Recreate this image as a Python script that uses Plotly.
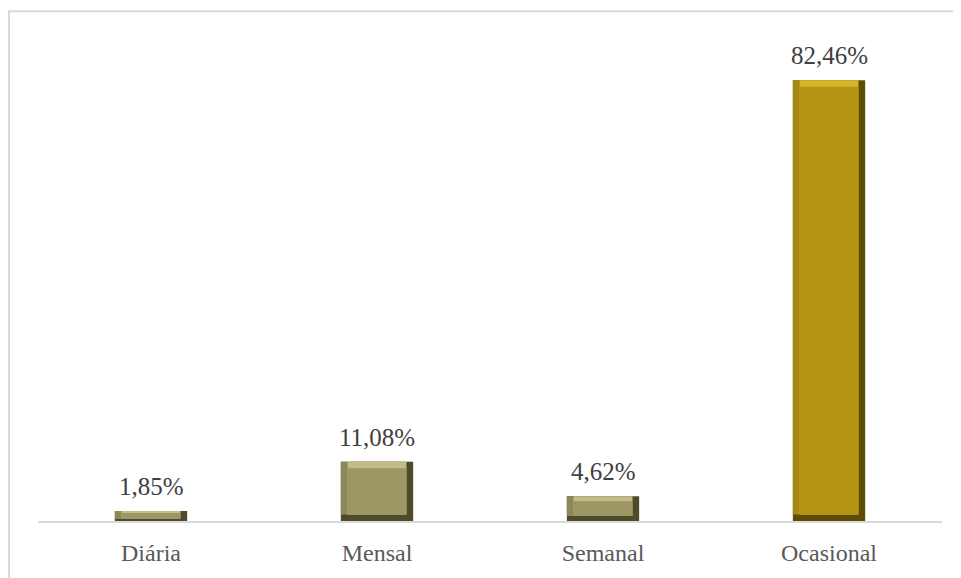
import plotly.graph_objects as go

categories = ["Diária", "Mensal", "Semanal", "Ocasional"]
values = [1.85, 11.08, 4.62, 82.46]
labels = ["1,85%", "11,08%", "4,62%", "82,46%"]

face_colors = ["#9d9665", "#9d9665", "#9d9665", "#b39412"]
side_colors = ["#8e875a", "#8e875a", "#8e875a", "#a5880f"]
light_colors = ["#c2bb8a", "#c2bb8a", "#c2bb8a", "#d3b42a"]
dark_colors = ["#4f4a2a", "#4f4a2a", "#4f4a2a", "#5e4c04"]

FONT = "Liberation Serif"

W = 0.32      # bar width (category units)
BX = 0.03     # bevel width (category units)
bevel = [min(1.2, v * 0.2) for v in values]

fig = go.Figure()
# shadow layer (right + bottom edges)
fig.add_trace(go.Bar(
    x=categories, y=values, width=W, offset=-W / 2,
    marker=dict(color=dark_colors, line=dict(width=0)),
    hoverinfo="skip", showlegend=False,
))
# left side layer
fig.add_trace(go.Bar(
    x=categories, y=[v - b for v, b in zip(values, bevel)], base=bevel,
    width=W - BX, offset=-W / 2,
    marker=dict(color=side_colors, line=dict(width=0)),
    hoverinfo="skip", showlegend=False,
))
# top highlight layer
fig.add_trace(go.Bar(
    x=categories, y=[v - b for v, b in zip(values, bevel)], base=bevel,
    width=W - 2 * BX, offset=-W / 2 + BX,
    marker=dict(color=light_colors, line=dict(width=0)),
    hoverinfo="skip", showlegend=False,
))
# face
fig.add_trace(go.Bar(
    x=categories, y=[v - 2 * b for v, b in zip(values, bevel)], base=bevel,
    width=W - 2 * BX, offset=-W / 2 + BX,
    marker=dict(color=face_colors, line=dict(width=0)),
    showlegend=False,
))

for c, v, t in zip(categories, values, labels):
    fig.add_annotation(x=c, y=v, text=t, showarrow=False, yanchor="bottom",
                       yshift=9, font=dict(family=FONT, size=25, color="#404040"))

fig.add_shape(type="rect", xref="paper", yref="paper",
              x0=-0.032, x1=1.06, y0=-0.16, y1=1.06,
              line=dict(color="#d9d9d9", width=2), fillcolor="rgba(0,0,0,0)",
              layer="below")

fig.update_layout(
    width=953, height=570,
    margin=dict(l=30, r=19, t=32, b=53),
    paper_bgcolor="white", plot_bgcolor="white",
    barmode="overlay",
    font=dict(family=FONT, size=24, color="#595959"),
    xaxis=dict(showline=True, linecolor="#d9d9d9", linewidth=2, ticks="",
               tickfont=dict(family=FONT, size=24, color="#595959"),
               ticklabelstandoff=9,
               showgrid=False, zeroline=False),
    yaxis=dict(range=[0, 90], visible=False, showgrid=False, zeroline=False),
)

fig.write_html("out.html")
